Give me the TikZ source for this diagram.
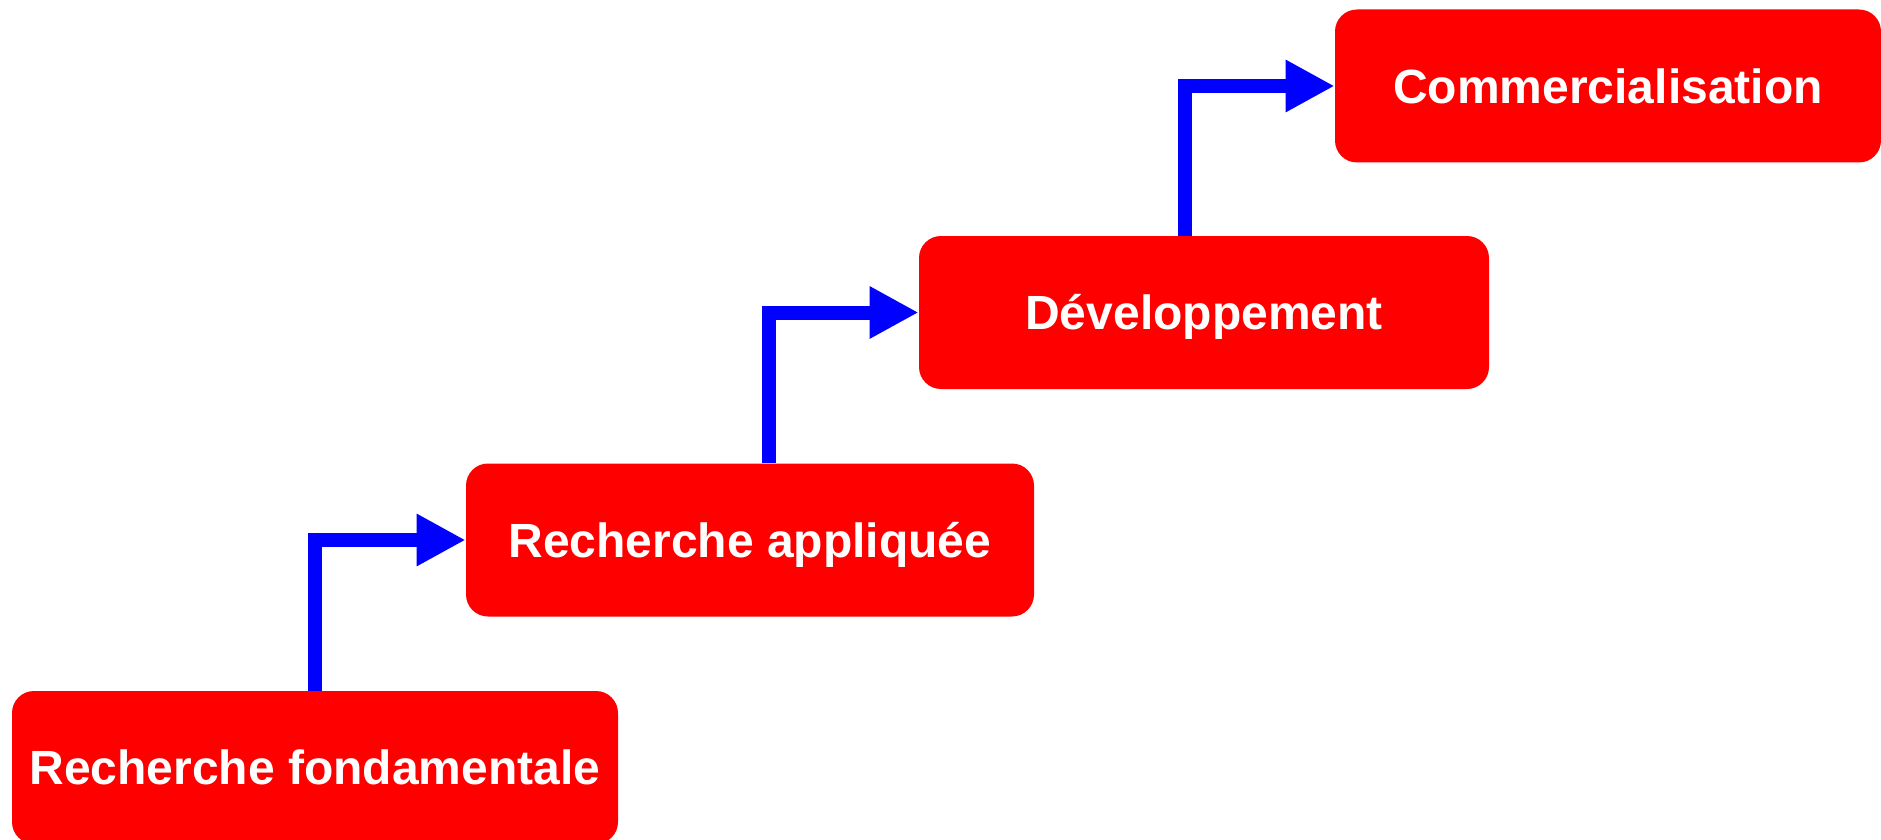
\documentclass[tikz,border=0pt]{standalone}
\usepackage{fontspec}
\setmainfont{Liberation Sans}
\usetikzlibrary{arrows.meta}
\begin{document}
\begin{tikzpicture}[x=0.5pt, y=-0.5pt]
  \tikzstyle{stage} = [fill=red, rounded corners=11pt, minimum height=76.5pt, text=white,
                       text height=17.2pt, text depth=0pt, inner sep=0pt,
                       font=\bfseries\fontsize{24}{28}\selectfont];
  \tikzstyle{flow}  = [draw=blue, line width=7pt,
                       -{Triangle[length=24.5pt, width=24.5pt]}];

  \useasboundingbox (0, 0) rectangle (1881, 840);

  \node[stage, minimum width=303pt] (fund) at (315, 767.5)  {Recherche fondamentale};
  \node[stage, minimum width=284pt] (appl) at (750, 540)    {Recherche appliquée};
  \node[stage, minimum width=285pt] (dev)  at (1204, 312.5) {Développement};
  \node[stage, minimum width=273pt] (comm) at (1608, 86)    {Commercialisation};

  \draw[flow] (fund.north) |- (appl.west);
  \draw[flow] ([xshift=9.5pt]appl.north) |- (dev.west);
  \draw[flow] ([xshift=-9.75pt]dev.north) |- (comm.west);
\end{tikzpicture}
\end{document}
